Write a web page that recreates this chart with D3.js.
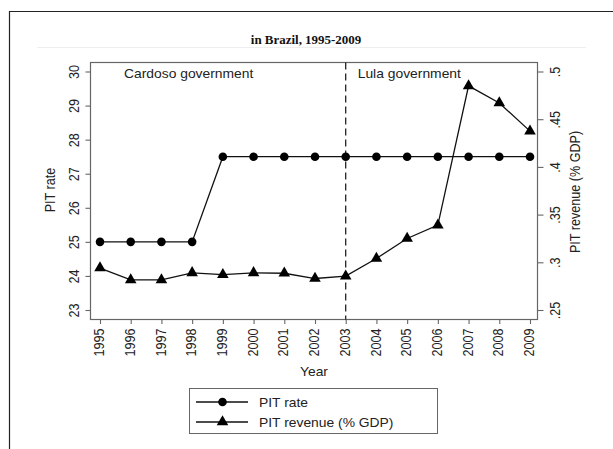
<!DOCTYPE html>
<html>
<head>
<meta charset="utf-8">
<script src="https://cdn.jsdelivr.net/npm/d3@7"></script>
<style>
  html, body { margin: 0; padding: 0; background: #fff; }
  svg { display: block; font-family: "Liberation Sans", Arial, sans-serif; }
</style>
</head>
<body>
<svg id="chart" width="613" height="449"></svg>
<script>
// Personal income tax in Brazil, 1995-2009
const years = [1995, 1996, 1997, 1998, 1999, 2000, 2001, 2002, 2003, 2004, 2005, 2006, 2007, 2008, 2009];
const pitRate = [25, 25, 25, 25, 27.5, 27.5, 27.5, 27.5, 27.5, 27.5, 27.5, 27.5, 27.5, 27.5, 27.5];
const pitRevenue = [0.294, 0.2815, 0.2815, 0.289, 0.287, 0.289, 0.2885, 0.283, 0.2855, 0.304, 0.325, 0.339, 0.485, 0.467, 0.4375];
const rateTicks = [23, 24, 25, 26, 27, 28, 29, 30];
const revenueTicks = [0.25, 0.3, 0.35, 0.4, 0.45, 0.5];
const revenueTickLabels = [".25", ".3", ".35", ".4", ".45", ".5"];
const periods = [
  { label: "Cardoso government", start: 1995 },
  { label: "Lula government", start: 2003 }
];
const seriesNames = ["PIT rate", "PIT revenue (% GDP)"];

const FS = 12.6;      // text size
const WIDE = 1.1;     // horizontal widening of the lettering

const svg = d3.select("#chart");
const plot = { left: 90.5, right: 537.5, top: 62.5, bottom: 319.5 };

const x = d3.scaleLinear().domain([1995, 2009]).range([100, 530]);
const yRate = d3.scaleLinear().domain([23, 30]).range([310, 71.5]);
const yRev = d3.scaleLinear().domain([0.25, 0.5]).range([310, 71.5]);

// helper: horizontal text with widened lettering
function htext(px, py, str, anchor) {
  return svg.append("text")
    .attr("transform", `translate(${px},${py}) scale(${WIDE},1)`)
    .attr("text-anchor", anchor || "start")
    .attr("font-size", FS).attr("fill", "#222").text(str);
}

// outer page frame
svg.append("path").attr("d", "M9.5,449 V11.5 H613")
  .attr("fill", "none").attr("stroke", "#222").attr("stroke-width", 1.2);

// title
svg.append("text").attr("transform", "translate(306,44) scale(1.08,1)").attr("text-anchor", "middle")
  .attr("font-family", "'Liberation Serif', 'Times New Roman', serif")
  .attr("font-weight", "bold").attr("font-size", 12).attr("fill", "#111")
  .text("in Brazil, 1995-2009");
svg.append("line").attr("x1", 37).attr("x2", 586).attr("y1", 47.5).attr("y2", 47.5)
  .attr("stroke", "#eee").attr("stroke-width", 1);

// plot frame
svg.append("rect").attr("x", plot.left).attr("y", plot.top)
  .attr("width", plot.right - plot.left).attr("height", plot.bottom - plot.top)
  .attr("fill", "none").attr("stroke", "#666").attr("stroke-width", 1.2);

function styleAxis(g) {
  g.select(".domain").remove();
  g.selectAll(".tick line").attr("stroke", "#666").attr("stroke-width", 1.1);
  g.selectAll(".tick text").attr("font-size", FS).attr("fill", "#222").attr("font-family", null)
    .attr("x", 0).attr("y", 0).attr("dy", 0).attr("dominant-baseline", "middle");
}

// left axis
const leftAxis = svg.append("g").attr("transform", `translate(${plot.left},0)`)
  .call(d3.axisLeft(yRate).tickValues(rateTicks).tickSize(5).tickFormat(d3.format("d")));
styleAxis(leftAxis);
leftAxis.selectAll(".tick text").attr("text-anchor", "middle")
  .attr("transform", `translate(-15.5,0) rotate(-90) scale(1,${WIDE})`);

// right axis
const rightAxis = svg.append("g").attr("transform", `translate(${plot.right},0)`)
  .call(d3.axisRight(yRev).tickValues(revenueTicks).tickSize(6)
    .tickFormat((d, i) => revenueTickLabels[i]));
styleAxis(rightAxis);
rightAxis.selectAll(".tick text").attr("text-anchor", "middle")
  .attr("transform", `translate(18.5,0) rotate(-90) scale(1,${WIDE})`);

// bottom axis
const bottomAxis = svg.append("g").attr("transform", `translate(0,${plot.bottom})`)
  .call(d3.axisBottom(x).tickValues(years).tickSize(4.5).tickFormat(d3.format("d")));
styleAxis(bottomAxis);
bottomAxis.selectAll(".tick text").attr("text-anchor", "end")
  .attr("transform", `translate(0,9) rotate(-90) scale(1,${WIDE})`);

// axis titles
svg.append("text").attr("transform", `translate(51.5,190) rotate(-90) scale(1,${WIDE})`)
  .attr("text-anchor", "middle").attr("dominant-baseline", "middle")
  .attr("font-size", FS).attr("fill", "#222").text("PIT rate");
svg.append("text").attr("transform", `translate(576.5,192) rotate(-90) scale(1,${WIDE})`)
  .attr("text-anchor", "middle").attr("dominant-baseline", "middle")
  .attr("font-size", FS).attr("fill", "#222").text("PIT revenue (% GDP)");
htext(314, 376, "Year", "middle");

// change of government
svg.append("line").attr("x1", x(2003)).attr("x2", x(2003))
  .attr("y1", plot.top).attr("y2", plot.bottom)
  .attr("stroke", "#111").attr("stroke-width", 1.2).attr("stroke-dasharray", "7,4");
periods.forEach(p => {
  htext(x(p.start) + (p.start === 2003 ? 12 : 24), 78, p.label);
});

// series
const triangle = d3.symbol().type(d3.symbolTriangle).size(58);
const rateLine = d3.line().x((d, i) => x(years[i])).y(d => yRate(d));
const revLine = d3.line().x((d, i) => x(years[i])).y(d => yRev(d));

svg.append("path").datum(pitRate).attr("d", rateLine)
  .attr("fill", "none").attr("stroke", "#111").attr("stroke-width", 1.3);
svg.selectAll("circle.rate").data(pitRate).enter().append("circle")
  .attr("class", "rate").attr("cx", (d, i) => x(years[i])).attr("cy", d => yRate(d))
  .attr("r", 4.3).attr("fill", "#000");

svg.append("path").datum(pitRevenue).attr("d", revLine)
  .attr("fill", "none").attr("stroke", "#111").attr("stroke-width", 1.3);
svg.selectAll("path.rev").data(pitRevenue).enter().append("path")
  .attr("class", "rev")
  .attr("transform", (d, i) => `translate(${x(years[i])},${yRev(d)})`)
  .attr("d", triangle).attr("fill", "#000");

// legend
const legend = svg.append("g");
legend.append("rect").attr("x", 189.5).attr("y", 388.5).attr("width", 248).attr("height", 45)
  .attr("fill", "#fff").attr("stroke", "#666").attr("stroke-width", 1);
seriesNames.forEach((name, i) => {
  const ly = 402 + i * 20;
  legend.append("line").attr("x1", 196).attr("x2", 248).attr("y1", ly).attr("y2", ly)
    .attr("stroke", "#111").attr("stroke-width", 1.3);
  if (i === 0) {
    legend.append("circle").attr("cx", 222.5).attr("cy", ly).attr("r", 4.3).attr("fill", "#000");
  } else {
    legend.append("path").attr("transform", `translate(222.5,${ly})`).attr("d", triangle).attr("fill", "#000");
  }
  htext(259, ly + 4.5, name);
});
</script>
</body>
</html>
